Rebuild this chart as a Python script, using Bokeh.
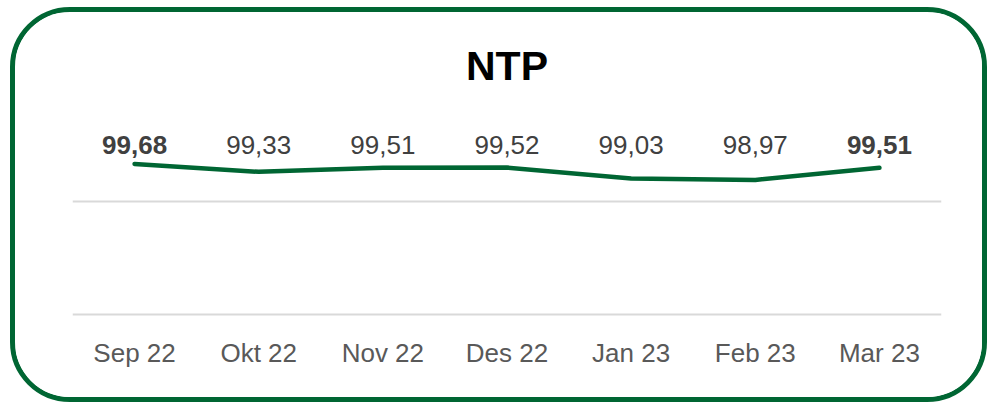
from bokeh.plotting import figure
from bokeh.models import Range1d, FixedTicker, ColumnDataSource
from bokeh.embed import file_html
from bokeh.resources import INLINE
from bokeh.core.properties import value

# ---- data ----
months = ["Sep 22", "Okt 22", "Nov 22", "Des 22", "Jan 23", "Feb 23", "Mar 23"]
ntp = [99.68, 99.33, 99.51, 99.52, 99.03, 98.97, 99.51]
label_styles = ["bold", "normal", "normal", "normal", "normal", "normal", "bold"]
grid_ticks = [93, 98]
label_level = 100
y_start, y_end = 92.9, 102.5

labels = [f"{v:.2f}".replace(".", ",") for v in ntp]

GREEN = "#006633"
FONT = "Liberation Sans"

src = ColumnDataSource(dict(
    x=months, y=ntp, lbl=labels, style=label_styles,
    ly=[label_level] * len(months),
))

p = figure(
    x_range=months, y_range=Range1d(y_start, y_end),
    width=977, height=395,
    output_backend="svg", toolbar_location=None,
    min_border_left=57, min_border_right=51,
    min_border_top=88, min_border_bottom=91,
)
# rounded green card border
p.styles = {
    "margin-left": "10px", "margin-top": "7px",
    "border": f"5px solid {GREEN}", "border-radius": "60px",
    "overflow": "hidden", "background-color": "white",
}
p.background_fill_color = "white"
p.border_fill_color = "white"
p.outline_line_color = None

p.title.text = "NTP"
p.title.align = "center"
p.title.text_font = FONT
p.title.text_font_size = "41px"
p.title.text_font_style = "bold"
p.title.text_color = "#000000"
p.title.standoff = 23

p.xgrid.visible = False
p.ygrid.ticker = FixedTicker(ticks=grid_ticks)
p.ygrid.grid_line_color = "#D9D9D9"
p.ygrid.grid_line_width = 2
p.yaxis.visible = False

p.xaxis.axis_line_color = None
p.xaxis.major_tick_line_color = None
p.xaxis.minor_tick_line_color = None
p.xaxis.major_label_text_font = FONT
p.xaxis.major_label_text_font_size = "26px"
p.xaxis.major_label_text_color = "#595959"
p.xaxis.major_label_standoff = 15

p.line("x", "y", source=src, line_width=4.5, line_color=GREEN,
       line_cap="round", line_join="round")

p.text("x", "ly", text="lbl", source=src, text_align="center",
       text_baseline="alphabetic", y_offset=-12, text_font=value(FONT),
       text_font_size="26px", text_font_style="style",
       text_color="#404040")

open("out.html", "w").write(file_html(p, INLINE))
